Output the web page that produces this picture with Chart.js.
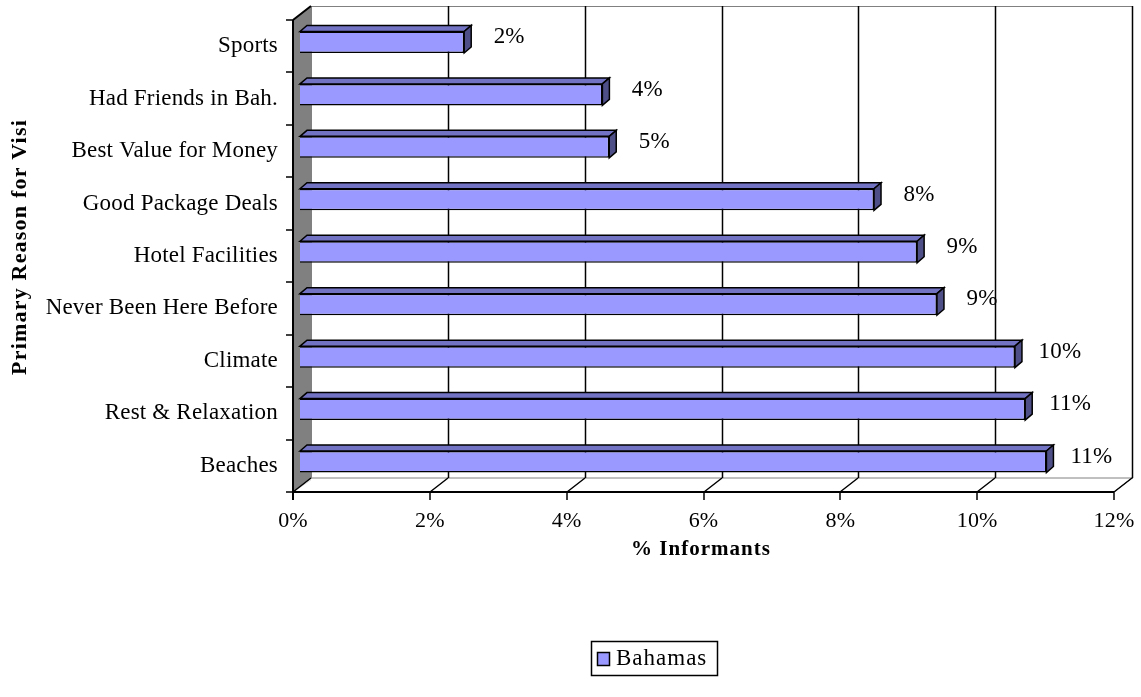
<!DOCTYPE html>
<html>
<head>
<meta charset="utf-8">
<title>Primary Reason for Visit</title>
<script src="https://cdn.jsdelivr.net/npm/chart.js@4.4.1/dist/chart.umd.min.js"></script>
<style>
  html, body { margin: 0; padding: 0; background: #fff; }
  #wrap { width: 1141px; height: 697px; }
</style>
</head>
<body>
<div id="wrap"><canvas id="chart" width="1141" height="697"></canvas></div>
<script>
const reasons = [
  "Sports",
  "Had Friends in Bah.",
  "Best Value for Money",
  "Good Package Deals",
  "Hotel Facilities",
  "Never Been Here Before",
  "Climate",
  "Rest & Relaxation",
  "Beaches"
];
const bahamas = [2.40, 4.42, 4.52, 8.39, 9.02, 9.31, 10.45, 10.60, 10.91];
const xTicks = [0, 2, 4, 6, 8, 10, 12];
const seriesName = "Bahamas";
const xTitle = "% Informants";
const yTitle = "Primary Reason for Visi";

// oblique 3D look: wall depth, bar plane depth, bar thickness depth
const WALL_DX = 18, WALL_DY = -14;
const BAR_DX = 7, BAR_DY = -4;
const FACE_DX = 7, FACE_DY = -6;

const FONT = "Liberation Serif";
const BAR_FRONT = "#9999ff";
const BAR_TOP = "#7373c4";
const BAR_SIDE = "#4f4f88";

const threeD = {
  id: "threeD",
  beforeDraw(chart) {
    chart.ctx.letterSpacing = "0.2px";
  },
  beforeDatasetsDraw(chart) {
    const ctx = chart.ctx;
    const a = chart.chartArea;
    const x = chart.scales.x;
    ctx.save();
    ctx.lineWidth = 1;

    // back wall
    ctx.fillStyle = "#fff";
    ctx.strokeStyle = "#808080";
    ctx.fillRect(a.left + WALL_DX, a.top + WALL_DY, a.right - a.left, a.bottom - a.top);
    ctx.strokeRect(a.left + WALL_DX + 0.5, a.top + WALL_DY + 0.5, a.right - a.left, a.bottom - a.top);

    // floor
    ctx.beginPath();
    ctx.moveTo(a.left, a.bottom);
    ctx.lineTo(a.left + WALL_DX, a.bottom + WALL_DY);
    ctx.lineTo(a.right + WALL_DX, a.bottom + WALL_DY);
    ctx.lineTo(a.right, a.bottom);
    ctx.closePath();
    ctx.fill();
    ctx.stroke();

    // gridlines on the back wall
    ctx.strokeStyle = "#000";
    ctx.lineWidth = 1.5;
    xTicks.forEach(v => {
      if (v === 0) return;
      const px = Math.round(x.getPixelForValue(v)) + WALL_DX + 0.5;
      ctx.beginPath();
      ctx.moveTo(px, a.top + WALL_DY);
      ctx.lineTo(px, a.bottom + WALL_DY);
      ctx.stroke();
    });

    // left wall
    ctx.fillStyle = "#808080";
    ctx.lineWidth = 1;
    ctx.beginPath();
    ctx.moveTo(a.left, a.top);
    ctx.lineTo(a.left + WALL_DX, a.top + WALL_DY);
    ctx.lineTo(a.left + WALL_DX, a.bottom + WALL_DY);
    ctx.lineTo(a.left, a.bottom);
    ctx.closePath();
    ctx.fill();
    ctx.strokeStyle = "#e0e0e0";
    ctx.beginPath();
    ctx.moveTo(a.left + 3, a.bottom - 2);
    ctx.lineTo(a.left + WALL_DX, a.bottom + WALL_DY + 2);
    ctx.stroke();

    // axes
    ctx.strokeStyle = "#000";
    ctx.lineWidth = 2;
    ctx.beginPath();
    ctx.moveTo(a.left, a.top);
    ctx.lineTo(a.left + WALL_DX, a.top + WALL_DY);
    ctx.moveTo(a.left, a.top);
    ctx.lineTo(a.left, a.bottom + 8);
    ctx.moveTo(a.left, a.bottom);
    ctx.lineTo(a.right, a.bottom);
    ctx.stroke();

    // x tick marks (into the floor and down)
    ctx.lineWidth = 1.5;
    xTicks.forEach(v => {
      const px = Math.round(x.getPixelForValue(v));
      ctx.beginPath();
      ctx.moveTo(px, a.bottom + 8);
      ctx.lineTo(px, a.bottom);
      ctx.lineTo(px + WALL_DX, a.bottom + WALL_DY);
      ctx.stroke();
    });

    // y tick marks between categories
    const step = (a.bottom - a.top) / reasons.length;
    for (let i = 0; i <= reasons.length; i++) {
      const py = Math.round(a.top + i * step);
      ctx.beginPath();
      ctx.moveTo(a.left - 7, py);
      ctx.lineTo(a.left, py);
      ctx.stroke();
    }
    ctx.restore();

    // bars sit a little inside the depth
    ctx.save();
    ctx.translate(BAR_DX, BAR_DY);
  },
  afterDatasetsDraw(chart) {
    const ctx = chart.ctx;
    const bars = chart.getDatasetMeta(0).data;
    ctx.lineWidth = 1.5;
    ctx.strokeStyle = "#000";
    bars.forEach(el => {
      const p = el.getProps(["x", "y", "base", "height"], true);
      const top = p.y - p.height / 2;
      const bot = p.y + p.height / 2;
      // top face
      ctx.fillStyle = BAR_TOP;
      ctx.beginPath();
      ctx.moveTo(p.base, top);
      ctx.lineTo(p.base + FACE_DX, top + FACE_DY);
      ctx.lineTo(p.x + FACE_DX, top + FACE_DY);
      ctx.lineTo(p.x, top);
      ctx.closePath();
      ctx.fill();
      ctx.stroke();
      // right face
      ctx.fillStyle = BAR_SIDE;
      ctx.beginPath();
      ctx.moveTo(p.x, top);
      ctx.lineTo(p.x + FACE_DX, top + FACE_DY);
      ctx.lineTo(p.x + FACE_DX, bot + FACE_DY);
      ctx.lineTo(p.x, bot);
      ctx.closePath();
      ctx.fill();
      ctx.stroke();
    });
    ctx.restore();

    // value labels
    ctx.save();
    ctx.fillStyle = "#000";
    ctx.font = "23px '" + FONT + "'";
    ctx.textAlign = "center";
    ctx.textBaseline = "middle";
    bars.forEach((el, i) => {
      const p = el.getProps(["x", "y"], true);
      ctx.fillText(Math.round(bahamas[i]) + "%", p.x + BAR_DX + 45, p.y + BAR_DY - 5);
    });
    ctx.restore();
  },
  afterDraw(chart) {
    const ctx = chart.ctx;
    const a = chart.chartArea;
    ctx.save();
    ctx.fillStyle = "#000";
    ctx.textAlign = "center";
    ctx.textBaseline = "middle";

    // axis titles
    ctx.letterSpacing = "1px";
    ctx.font = "bold 21px '" + FONT + "'";
    ctx.fillText(xTitle, 701, 550);
    ctx.save();
    ctx.translate(20, 247);
    ctx.rotate(-Math.PI / 2);
    ctx.letterSpacing = "1.2px";
    ctx.font = "bold 22px '" + FONT + "'";
    ctx.fillText(yTitle, 0, 0);
    ctx.restore();

    // legend
    const ds = chart.data.datasets[0];
    ctx.lineWidth = 1.5;
    ctx.strokeStyle = "#000";
    ctx.strokeRect(591.5, 641.5, 126, 34);
    ctx.fillStyle = ds.backgroundColor;
    ctx.fillRect(597, 652, 12, 13);
    ctx.strokeRect(597.5, 652.5, 12, 13);
    ctx.fillStyle = "#000";
    ctx.textAlign = "left";
    ctx.letterSpacing = "1px";
    ctx.font = "23px '" + FONT + "'";
    ctx.fillText(ds.label, 616, 659);
    ctx.restore();
    ctx.letterSpacing = "0px";
  }
};

new Chart(document.getElementById("chart"), {
  type: "bar",
  data: {
    labels: reasons,
    datasets: [{
      label: seriesName,
      data: bahamas,
      backgroundColor: BAR_FRONT,
      borderColor: "#000",
      borderWidth: 1.5,
      barPercentage: 0.41,
      categoryPercentage: 1
    }]
  },
  options: {
    indexAxis: "y",
    responsive: false,
    animation: false,
    clip: false,
    layout: { padding: { top: 20, right: 27, left: 0, bottom: 0 } },
    plugins: {
      legend: { display: false },
      tooltip: { enabled: false }
    },
    scales: {
      x: {
        type: "linear",
        min: 0,
        max: 12,
        afterBuildTicks: s => { s.ticks = xTicks.map(v => ({ value: v })); },
        afterFit: s => {
          s.height = 697 - 492;
          s.paddingLeft = 0;
          s.paddingRight = 0;
        },
        grid: { display: false, drawTicks: false },
        border: { display: false },
        ticks: {
          callback: v => v + "%",
          color: "#000",
          padding: 16,
          maxRotation: 0,
          font: { family: FONT, size: 22 }
        }
      },
      y: {
        afterFit: s => {
          s.width = 293;
          s.paddingTop = 0;
          s.paddingBottom = 0;
        },
        grid: { display: false, drawTicks: false },
        border: { display: false },
        ticks: {
          color: "#000",
          padding: 15,
          font: { family: FONT, size: 23 }
        }
      }
    }
  },
  plugins: [threeD]
});
</script>
</body>
</html>
